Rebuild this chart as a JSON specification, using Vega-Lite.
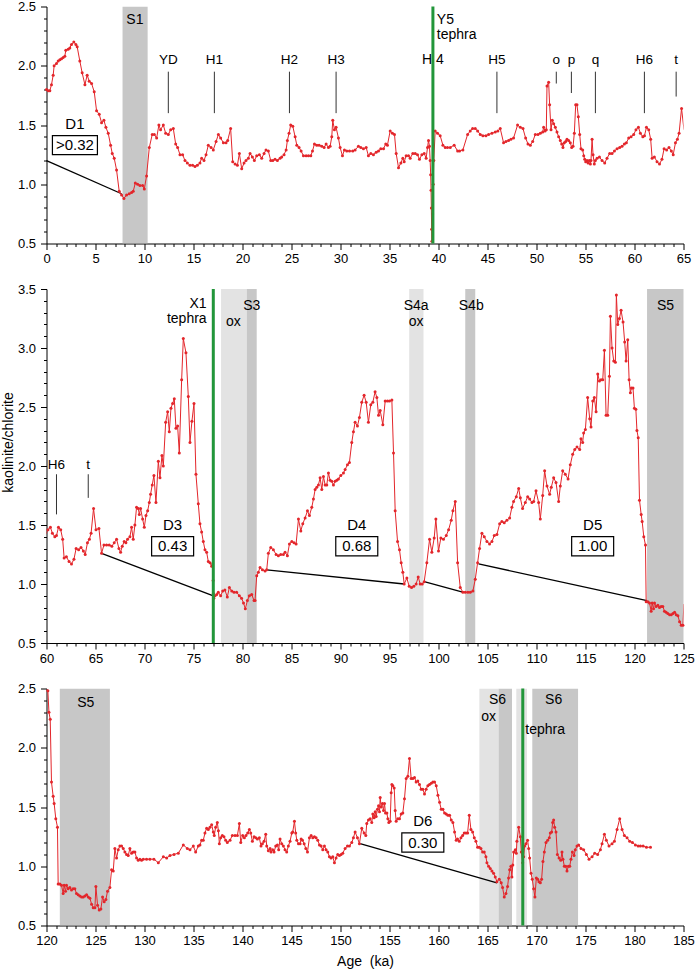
{
"$schema": "https://vega.github.io/schema/vega-lite/v6.json",
"padding": {"left": 1.5, "top": 0.5, "right": 5, "bottom": 0},
"bounds": "flush",
"spacing": 45.5,
"config": {
  "view": {"stroke": null},
  "font": "Liberation Sans",
  "axis": {"domainColor": "#000", "tickColor": "#000", "labelColor": "#000", "titleColor": "#000", "grid": false,
           "labelFont": "Liberation Sans", "titleFont": "Liberation Sans", "labelFontSize": 13, "titleFontSize": 14,
           "titleFontWeight": "normal", "domainWidth": 1, "tickWidth": 1, "labelOverlap": false, "labelFlush": false, "labelBound": false},
  "text": {"font": "Liberation Sans", "color": "#000"}
},
"datasets": {
  "kc": [
{"ka":0,"v":1.80},{"ka":0.17,"v":1.79},{"ka":0.34,"v":1.79},{"ka":0.51,"v":1.84},{"ka":0.68,"v":1.92},{"ka":0.78,"v":2.00},{"ka":1.02,"v":2.02},{"ka":1.19,"v":2.04},{"ka":1.36,"v":2.05},{"ka":1.53,"v":2.06},{"ka":1.70,"v":2.07},{"ka":1.87,"v":2.08},{"ka":1.97,"v":2.13},{"ka":2.21,"v":2.14},{"ka":2.38,"v":2.15},{"ka":2.55,"v":2.18},{"ka":2.79,"v":2.20},{"ka":3.00,"v":2.18},{"ka":3.13,"v":2.16},{"ka":3.40,"v":2.04},{"ka":3.64,"v":1.94},{"ka":3.92,"v":1.84},{"ka":4.15,"v":1.92},{"ka":4.36,"v":1.87},{"ka":4.60,"v":1.85},{"ka":4.87,"v":1.78},{"ka":5.11,"v":1.62},{"ka":5.38,"v":1.59},{"ka":5.62,"v":1.52},{"ka":5.86,"v":1.54},{"ka":6.06,"v":1.48},{"ka":6.30,"v":1.43},{"ka":6.54,"v":1.33},{"ka":6.71,"v":1.26},{"ka":6.91,"v":1.22},{"ka":7.15,"v":1.12},{"ka":7.42,"v":0.94},{"ka":7.66,"v":0.91},{"ka":7.90,"v":0.88},{"ka":8.17,"v":0.91},{"ka":8.44,"v":0.92},{"ka":8.68,"v":0.93},{"ka":8.85,"v":0.94},{"ka":9.06,"v":1.01},{"ka":9.30,"v":1.00},{"ka":9.53,"v":0.99},{"ka":9.81,"v":0.99},{"ka":9.98,"v":0.96},{"ka":10.21,"v":1.07},{"ka":10.49,"v":1.31},{"ka":10.79,"v":1.42},{"ka":11.00,"v":1.42},{"ka":11.24,"v":1.39},{"ka":11.47,"v":1.50},{"ka":11.64,"v":1.46},{"ka":11.92,"v":1.50},{"ka":12.16,"v":1.43},{"ka":12.43,"v":1.42},{"ka":12.67,"v":1.46},{"ka":12.94,"v":1.47},{"ka":13.18,"v":1.34},{"ka":13.38,"v":1.31},{"ka":13.62,"v":1.25},{"ka":13.89,"v":1.25},{"ka":14.13,"v":1.20},{"ka":14.37,"v":1.18},{"ka":14.64,"v":1.16},{"ka":14.91,"v":1.16},{"ka":15.15,"v":1.15},{"ka":15.39,"v":1.16},{"ka":15.66,"v":1.18},{"ka":15.83,"v":1.22},{"ka":16.07,"v":1.20},{"ka":16.28,"v":1.25},{"ka":16.51,"v":1.33},{"ka":16.79,"v":1.31},{"ka":17.02,"v":1.29},{"ka":17.30,"v":1.36},{"ka":17.54,"v":1.42},{"ka":17.77,"v":1.39},{"ka":18.05,"v":1.35},{"ka":18.32,"v":1.35},{"ka":18.49,"v":1.37},{"ka":18.79,"v":1.47},{"ka":19.00,"v":1.19},{"ka":19.24,"v":1.17},{"ka":19.48,"v":1.16},{"ka":19.68,"v":1.26},{"ka":19.92,"v":1.13},{"ka":20.16,"v":1.18},{"ka":20.36,"v":1.20},{"ka":20.60,"v":1.22},{"ka":20.77,"v":1.26},{"ka":21.01,"v":1.23},{"ka":21.21,"v":1.20},{"ka":21.45,"v":1.24},{"ka":21.72,"v":1.25},{"ka":21.96,"v":1.22},{"ka":22.20,"v":1.26},{"ka":22.40,"v":1.29},{"ka":22.64,"v":1.28},{"ka":22.88,"v":1.20},{"ka":23.09,"v":1.20},{"ka":23.32,"v":1.21},{"ka":23.56,"v":1.20},{"ka":23.83,"v":1.22},{"ka":24.00,"v":1.23},{"ka":24.24,"v":1.25},{"ka":24.45,"v":1.29},{"ka":24.58,"v":1.37},{"ka":24.75,"v":1.43},{"ka":24.92,"v":1.50},{"ka":25.13,"v":1.49},{"ka":25.37,"v":1.40},{"ka":25.54,"v":1.33},{"ka":25.77,"v":1.31},{"ka":25.98,"v":1.28},{"ka":26.22,"v":1.24},{"ka":26.49,"v":1.24},{"ka":26.73,"v":1.24},{"ka":26.97,"v":1.24},{"ka":27.14,"v":1.28},{"ka":27.34,"v":1.34},{"ka":27.58,"v":1.33},{"ka":27.82,"v":1.33},{"ka":28.09,"v":1.32},{"ka":28.33,"v":1.31},{"ka":28.53,"v":1.34},{"ka":28.77,"v":1.31},{"ka":28.94,"v":1.32},{"ka":29.11,"v":1.40},{"ka":29.21,"v":1.54},{"ka":29.38,"v":1.46},{"ka":29.55,"v":1.48},{"ka":29.79,"v":1.39},{"ka":29.96,"v":1.31},{"ka":30.20,"v":1.24},{"ka":30.40,"v":1.29},{"ka":30.64,"v":1.28},{"ka":30.92,"v":1.28},
{"ka":31.25,"v":1.28},{"ka":31.49,"v":1.29},{"ka":31.83,"v":1.32},{"ka":32.07,"v":1.31},{"ka":32.34,"v":1.30},{"ka":32.62,"v":1.31},{"ka":32.85,"v":1.24},{"ka":33.09,"v":1.26},{"ka":33.36,"v":1.25},{"ka":33.64,"v":1.27},{"ka":33.88,"v":1.28},{"ka":34.11,"v":1.30},{"ka":34.39,"v":1.30},{"ka":34.62,"v":1.34},{"ka":34.79,"v":1.33},{"ka":35.07,"v":1.45},{"ka":35.30,"v":1.43},{"ka":35.51,"v":1.42},{"ka":35.68,"v":1.26},{"ka":35.92,"v":1.14},{"ka":36.16,"v":1.18},{"ka":36.36,"v":1.22},{"ka":36.50,"v":1.19},{"ka":36.70,"v":1.24},{"ka":36.94,"v":1.24},{"ka":37.11,"v":1.22},{"ka":37.38,"v":1.26},{"ka":37.62,"v":1.26},{"ka":37.86,"v":1.25},{"ka":38.06,"v":1.21},{"ka":38.30,"v":1.25},{"ka":38.54,"v":1.26},{"ka":38.74,"v":1.22},{"ka":38.88,"v":1.31},{"ka":38.98,"v":1.37},{"ka":39.08,"v":1.32},{"ka":39.15,"v":1.20},{"ka":39.20,"v":1.08},{"ka":39.24,"v":0.95},{"ka":39.27,"v":0.80},{"ka":39.30,"v":0.62},{"ka":39.33,"v":0.52},{"ka":39.40,"v":0.75},{"ka":39.46,"v":1.00},{"ka":39.52,"v":1.20},{"ka":39.66,"v":1.45},{"ka":39.90,"v":1.43},{"ka":40.17,"v":1.41},{"ka":40.45,"v":1.33},{"ka":40.69,"v":1.31},{"ka":40.92,"v":1.31},{"ka":41.20,"v":1.31},{"ka":41.60,"v":1.33},{"ka":41.95,"v":1.28},{"ka":42.15,"v":1.28},{"ka":42.49,"v":1.29},{"ka":42.97,"v":1.42},{"ka":43.24,"v":1.45},{"ka":43.48,"v":1.47},{"ka":43.75,"v":1.47},{"ka":43.99,"v":1.45},{"ka":44.26,"v":1.42},{"ka":44.53,"v":1.41},{"ka":44.84,"v":1.41},{"ka":45.11,"v":1.42},{"ka":45.45,"v":1.43},{"ka":45.79,"v":1.44},{"ka":46.06,"v":1.45},{"ka":46.30,"v":1.47},{"ka":46.64,"v":1.35},{"ka":46.88,"v":1.36},{"ka":47.15,"v":1.37},{"ka":47.39,"v":1.38},{"ka":47.66,"v":1.39},{"ka":48.07,"v":1.50},{"ka":48.35,"v":1.48},{"ka":48.62,"v":1.47},{"ka":48.89,"v":1.39},{"ka":49.13,"v":1.34},{"ka":49.37,"v":1.33},{"ka":49.61,"v":1.36},{"ka":49.88,"v":1.42},{"ka":50.15,"v":1.42},{"ka":50.39,"v":1.43},{"ka":50.63,"v":1.44},{"ka":50.73,"v":1.48},{"ka":50.87,"v":1.45},{"ka":51.00,"v":1.46},{"ka":51.07,"v":1.83},{"ka":51.24,"v":1.86},{"ka":51.34,"v":1.67},{"ka":51.48,"v":1.46},{"ka":51.61,"v":1.54},{"ka":51.75,"v":1.51},{"ka":51.92,"v":1.48},{"ka":52.09,"v":1.44},{"ka":52.26,"v":1.40},{"ka":52.43,"v":1.37},{"ka":52.57,"v":1.34},{"ka":52.70,"v":1.31},{"ka":52.84,"v":1.35},{"ka":52.98,"v":1.36},{"ka":53.11,"v":1.38},{"ka":53.28,"v":1.37},{"ka":53.45,"v":1.35},{"ka":53.59,"v":1.31},{"ka":53.73,"v":1.32},{"ka":53.86,"v":1.43},{"ka":54.00,"v":1.67},{"ka":54.13,"v":1.67},{"ka":54.27,"v":1.57},{"ka":54.41,"v":1.42},{"ka":54.54,"v":1.30},{"ka":54.71,"v":1.29},{"ka":54.82,"v":1.24},{"ka":54.92,"v":1.21},{"ka":55.02,"v":1.19},{"ka":55.16,"v":1.20},{"ka":55.26,"v":1.18},{"ka":55.39,"v":1.20},{"ka":55.50,"v":1.17},{"ka":55.56,"v":1.20},{"ka":55.67,"v":1.38},{"ka":55.77,"v":1.25},{"ka":55.90,"v":1.17},{"ka":56.01,"v":1.20},{"ka":56.18,"v":1.22},{"ka":56.42,"v":1.23},{"ka":56.69,"v":1.20},{"ka":56.96,"v":1.18},{"ka":57.20,"v":1.22},{"ka":57.47,"v":1.26},{"ka":57.71,"v":1.26},{"ka":57.95,"v":1.28},{"ka":58.22,"v":1.30},{"ka":58.49,"v":1.31},{"ka":58.73,"v":1.32},{"ka":58.97,"v":1.34},{"ka":59.17,"v":1.35},{"ka":59.41,"v":1.39},{"ka":59.65,"v":1.40},{"ka":59.92,"v":1.42},
{"ka":60.15,"v":1.46},{"ka":60.40,"v":1.48},{"ka":60.60,"v":1.43},{"ka":60.85,"v":1.40},{"ka":61.02,"v":1.41},{"ka":61.22,"v":1.48},{"ka":61.45,"v":1.46},{"ka":61.65,"v":1.38},{"ka":61.80,"v":1.22},{"ka":62.03,"v":1.23},{"ka":62.30,"v":1.19},{"ka":62.55,"v":1.17},{"ka":62.80,"v":1.21},{"ka":63.02,"v":1.30},{"ka":63.28,"v":1.29},{"ka":63.52,"v":1.31},{"ka":63.76,"v":1.28},{"ka":63.95,"v":1.25},{"ka":64.18,"v":1.35},{"ka":64.38,"v":1.38},{"ka":64.55,"v":1.43},{"ka":64.80,"v":1.64},{"ka":65.05,"v":1.46},{"ka":65.35,"v":1.47},{"ka":65.62,"v":1.26},
{"ka":65.86,"v":1.33},{"ka":66.13,"v":1.33},{"ka":66.40,"v":1.33},{"ka":66.67,"v":1.32},{"ka":66.91,"v":1.35},{"ka":67.15,"v":1.38},{"ka":67.39,"v":1.30},{"ka":67.56,"v":1.27},{"ka":67.73,"v":1.32},{"ka":67.93,"v":1.36},{"ka":68.10,"v":1.35},{"ka":68.27,"v":1.38},{"ka":68.51,"v":1.40},{"ka":68.68,"v":1.48},{"ka":68.85,"v":1.38},{"ka":69.02,"v":1.50},{"ka":69.19,"v":1.65},{"ka":69.36,"v":1.64},{"ka":69.47,"v":1.59},{"ka":69.60,"v":1.64},{"ka":69.81,"v":1.55},{"ka":69.98,"v":1.48},{"ka":70.15,"v":1.58},{"ka":70.32,"v":1.62},{"ka":70.49,"v":1.69},{"ka":70.62,"v":1.76},{"ka":70.79,"v":1.84},{"ka":70.96,"v":1.92},{"ka":71.17,"v":1.69},{"ka":71.41,"v":2.04},{"ka":71.58,"v":1.90},{"ka":71.78,"v":2.09},{"ka":71.92,"v":2.00},{"ka":72.16,"v":2.37},{"ka":72.36,"v":2.46},{"ka":72.53,"v":2.29},{"ka":72.70,"v":2.49},{"ka":72.87,"v":2.53},{"ka":73.04,"v":2.57},{"ka":73.21,"v":2.32},{"ka":73.38,"v":2.34},{"ka":73.55,"v":2.11},{"ka":73.79,"v":2.73},{"ka":73.96,"v":3.08},{"ka":74.23,"v":2.96},{"ka":74.47,"v":2.59},{"ka":74.64,"v":2.20},{"ka":74.84,"v":2.38},{"ka":75.05,"v":2.53},{"ka":75.25,"v":1.93},{"ka":75.49,"v":1.68},{"ka":75.66,"v":1.51},{"ka":75.83,"v":1.44},{"ka":76.00,"v":1.36},{"ka":76.17,"v":1.29},{"ka":76.34,"v":1.27},{"ka":76.51,"v":1.19},{"ka":76.68,"v":1.18},{"ka":76.85,"v":1.15},{"ka":76.96,"v":1.17},{"ka":77.00,"v":1.03},{"ka":77.03,"v":0.92},{"ka":77.07,"v":0.88},{"ka":77.20,"v":0.90},{"ka":77.37,"v":0.91},{"ka":77.53,"v":0.93},{"ka":77.77,"v":0.90},{"ka":77.98,"v":0.94},{"ka":78.20,"v":0.95},{"ka":78.45,"v":0.89},{"ka":78.66,"v":0.97},{"ka":78.90,"v":0.94},{"ka":79.13,"v":0.93},{"ka":79.40,"v":0.93},{"ka":79.68,"v":0.90},{"ka":79.90,"v":0.88},{"ka":80.10,"v":0.84},{"ka":80.29,"v":0.79},{"ka":80.50,"v":0.86},{"ka":80.70,"v":0.90},{"ka":80.94,"v":0.91},{"ka":81.18,"v":0.86},{"ka":81.28,"v":0.86},{"ka":81.45,"v":1.07},{"ka":81.62,"v":1.10},{"ka":81.79,"v":1.14},{"ka":82.03,"v":1.12},{"ka":82.30,"v":1.11},{"ka":82.47,"v":1.12},{"ka":82.64,"v":1.26},{"ka":82.88,"v":1.31},{"ka":83.15,"v":1.29},{"ka":83.43,"v":1.25},{"ka":83.66,"v":1.24},{"ka":83.90,"v":1.25},{"ka":84.17,"v":1.25},{"ka":84.34,"v":1.27},{"ka":84.58,"v":1.24},{"ka":84.79,"v":1.34},{"ka":85.03,"v":1.36},{"ka":85.26,"v":1.35},{"ka":85.47,"v":1.34},{"ka":85.71,"v":1.55},{"ka":85.95,"v":1.45},{"ka":86.15,"v":1.51},{"ka":86.39,"v":1.56},{"ka":86.63,"v":1.62},{"ka":86.83,"v":1.58},{"ka":87.07,"v":1.65},{"ka":87.24,"v":1.72},{"ka":87.41,"v":1.80},{"ka":87.58,"v":1.82},{"ka":87.75,"v":1.84},{"ka":87.92,"v":1.90},{"ka":88.09,"v":1.80},{"ka":88.26,"v":1.91},{"ka":88.43,"v":1.84},{"ka":88.60,"v":1.84},{"ka":88.77,"v":1.94},{"ka":88.94,"v":1.88},{"ka":89.11,"v":1.87},{"ka":89.28,"v":1.84},{"ka":89.45,"v":1.87},{"ka":89.62,"v":1.88},{"ka":89.79,"v":1.89},{"ka":90.03,"v":1.92},{"ka":90.30,"v":1.94},{"ka":90.47,"v":1.97},{"ka":90.71,"v":2.01},{"ka":90.91,"v":2.03},{"ka":91.15,"v":2.20},{"ka":91.32,"v":2.29},{"ka":91.49,"v":2.37},{"ka":91.73,"v":2.34},{"ka":91.93,"v":2.41},{"ka":92.17,"v":2.54},{"ka":92.41,"v":2.60},{"ka":92.62,"v":2.54},{"ka":92.85,"v":2.37},{"ka":93.09,"v":2.52},{"ka":93.30,"v":2.54},{"ka":93.53,"v":2.63},{"ka":93.71,"v":2.58},{"ka":93.88,"v":2.43},{"ka":94.05,"v":2.47},{"ka":94.32,"v":2.35},{"ka":94.56,"v":2.55},{"ka":94.79,"v":2.55},{"ka":95.00,"v":2.55},{"ka":95.24,"v":2.56},{"ka":95.41,"v":2.11},{"ka":95.58,"v":1.62},{"ka":95.82,"v":1.36},{"ka":96.02,"v":1.29},{"ka":96.19,"v":1.18},{"ka":96.36,"v":1.10},{"ka":96.50,"v":1.00},{"ka":96.77,"v":1.05},{"ka":97.01,"v":0.98},{"ka":97.25,"v":0.97},{"ka":97.48,"v":0.98},{"ka":97.72,"v":1.00},{"ka":97.93,"v":1.06},{"ka":98.13,"v":1.00},{"ka":98.34,"v":1.00},{"ka":98.54,"v":1.02},{"ka":98.81,"v":1.18},{"ka":99.09,"v":1.38},{"ka":99.32,"v":1.27},{"ka":99.56,"v":1.39},{"ka":99.73,"v":1.55},{"ka":100.00,"v":1.28},{"ka":100.24,"v":1.39},{"ka":100.51,"v":1.38},{"ka":100.79,"v":1.41},{"ka":101.03,"v":1.46},{"ka":101.30,"v":1.54},{"ka":101.47,"v":1.62},{"ka":101.71,"v":1.70},{"ka":101.95,"v":1.18},{"ka":102.22,"v":0.97},{"ka":102.49,"v":0.93},{"ka":102.73,"v":0.93},{"ka":103.00,"v":0.93},{"ka":103.24,"v":0.93},{"ka":103.51,"v":0.94},{"ka":103.75,"v":1.04},{"ka":103.99,"v":1.18},{"ka":104.19,"v":1.30},{"ka":104.43,"v":1.43},{"ka":104.67,"v":1.40},{"ka":104.94,"v":1.36},{"ka":105.21,"v":1.34},{"ka":105.45,"v":1.36},{"ka":105.69,"v":1.41},{"ka":105.96,"v":1.42},{"ka":106.24,"v":1.51},{"ka":106.47,"v":1.53},{"ka":106.71,"v":1.52},{"ka":106.98,"v":1.54},{"ka":107.26,"v":1.56},{"ka":107.49,"v":1.65},{"ka":107.66,"v":1.70},{"ka":107.94,"v":1.74},{"ka":108.18,"v":1.81},{"ka":108.35,"v":1.73},{"ka":108.58,"v":1.64},{"ka":108.86,"v":1.69},{"ka":109.10,"v":1.74},{"ka":109.30,"v":1.72},{"ka":109.54,"v":1.69},{"ka":109.71,"v":1.70},{"ka":109.95,"v":1.79},{"ka":110.22,"v":1.69},{"ka":110.39,"v":1.55},{"ka":110.63,"v":1.75},{"ka":110.83,"v":1.96},{"ka":111.07,"v":1.83},{"ka":111.34,"v":1.76},{"ka":111.51,"v":1.82},{"ka":111.75,"v":1.90},{"ka":111.99,"v":1.86},{"ka":112.26,"v":1.70},{"ka":112.43,"v":1.83},{"ka":112.67,"v":1.96},{"ka":112.94,"v":1.93},{"ka":113.22,"v":1.89},{"ka":113.45,"v":2.01},{"ka":113.69,"v":2.10},{"ka":113.90,"v":2.14},{"ka":114.13,"v":2.16},{"ka":114.41,"v":2.14},{"ka":114.54,"v":2.23},{"ka":114.71,"v":2.20},{"ka":114.81,"v":2.28},{"ka":114.99,"v":2.31},{"ka":115.22,"v":2.58},{"ka":115.43,"v":2.40},{"ka":115.56,"v":2.33},{"ka":115.74,"v":2.55},{"ka":115.90,"v":2.58},{"ka":116.08,"v":2.46},{"ka":116.25,"v":2.78},{"ka":116.42,"v":2.72},{"ka":116.59,"v":2.73},{"ka":116.76,"v":2.73},{"ka":116.93,"v":2.98},{"ka":117.10,"v":2.43},{"ka":117.27,"v":2.43},{"ka":117.44,"v":2.76},{"ka":117.54,"v":3.27},{"ka":117.71,"v":3.00},{"ka":117.88,"v":2.89},{"ka":118.05,"v":2.88},{"ka":118.15,"v":3.45},{"ka":118.29,"v":3.20},{"ka":118.46,"v":3.25},{"ka":118.63,"v":3.32},{"ka":118.83,"v":3.22},{"ka":119.00,"v":3.05},{"ka":119.14,"v":2.89},{"ka":119.31,"v":3.07},{"ka":119.45,"v":2.73},{"ka":119.58,"v":2.62},{"ka":119.68,"v":2.66},{"ka":119.85,"v":2.66},{"ka":119.99,"v":2.49},{"ka":120.14,"v":2.48},{"ka":120.25,"v":2.30},{"ka":120.38,"v":2.24},{"ka":120.51,"v":1.71},{"ka":120.68,"v":1.59},{"ka":120.78,"v":1.53},{"ka":120.95,"v":1.40},{"ka":121.12,"v":1.33},{"ka":121.19,"v":0.85},{"ka":121.36,"v":0.85},{"ka":121.53,"v":0.84},{"ka":121.70,"v":0.77},{"ka":121.80,"v":0.84},{"ka":121.94,"v":0.79},{"ka":122.04,"v":0.84},{"ka":122.21,"v":0.81},{"ka":122.38,"v":0.82},{"ka":122.55,"v":0.80},{"ka":122.72,"v":0.81},{"ka":122.89,"v":0.81},{"ka":123.06,"v":0.77},{"ka":123.23,"v":0.76},{"ka":123.40,"v":0.75},{"ka":123.58,"v":0.74},{"ka":123.75,"v":0.74},{"ka":123.92,"v":0.75},{"ka":124.09,"v":0.76},{"ka":124.26,"v":0.74},{"ka":124.43,"v":0.73},{"ka":124.60,"v":0.68},{"ka":124.77,"v":0.65},{"ka":124.94,"v":0.65},{"ka":125.04,"v":0.83},{"ka":125.21,"v":0.67},{"ka":125.38,"v":0.63},{"ka":125.55,"v":0.64},{"ka":125.72,"v":0.74},{"ka":125.89,"v":0.70},{"ka":126.06,"v":0.72},{"ka":126.23,"v":0.79},{"ka":126.47,"v":0.82},{"ka":126.64,"v":0.97},{"ka":126.81,"v":0.96},{"ka":126.98,"v":1.15},{"ka":127.15,"v":1.07},{"ka":127.32,"v":1.14},{"ka":127.49,"v":1.17},{"ka":127.66,"v":1.17},{"ka":127.83,"v":1.15},{"ka":128.00,"v":1.12},{"ka":128.17,"v":1.10},{"ka":128.34,"v":1.09},{"ka":128.51,"v":1.15},{"ka":128.68,"v":1.11},{"ka":128.85,"v":1.12},{"ka":129.02,"v":1.12},{"ka":129.19,"v":1.07},{"ka":129.36,"v":1.05},{"ka":129.53,"v":1.06},{"ka":129.70,"v":1.05},{"ka":129.87,"v":1.06},{"ka":130.21,"v":1.06},{"ka":130.55,"v":1.06},{"ka":130.96,"v":1.06},{"ka":131.41,"v":1.03},{"ka":131.92,"v":1.08},{"ka":132.26,"v":1.07},{"ka":132.60,"v":1.09},{"ka":133.01,"v":1.10},{"ka":133.45,"v":1.11},{"ka":133.96,"v":1.18},{"ka":134.37,"v":1.15},{"ka":134.64,"v":1.14},{"ka":134.98,"v":1.17},{"ka":135.22,"v":1.12},{"ka":135.49,"v":1.17},{"ka":135.66,"v":1.18},{"ka":135.83,"v":1.22},{"ka":136.00,"v":1.22},{"ka":136.17,"v":1.28},{"ka":136.34,"v":1.32},{"ka":136.51,"v":1.31},{"ka":136.68,"v":1.33},{"ka":136.85,"v":1.35},{"ka":137.02,"v":1.29},{"ka":137.12,"v":1.26},{"ka":137.26,"v":1.33},{"ka":137.43,"v":1.37},{"ka":137.54,"v":1.30},{"ka":137.64,"v":1.19},{"ka":137.77,"v":1.24},{"ka":137.94,"v":1.26},{"ka":138.11,"v":1.25},{"ka":138.28,"v":1.22},{"ka":138.45,"v":1.20},{"ka":138.73,"v":1.22},{"ka":138.96,"v":1.26},{"ka":139.24,"v":1.26},{"ka":139.48,"v":1.26},{"ka":139.68,"v":1.36},{"ka":139.82,"v":1.20},{"ka":140.02,"v":1.26},{"ka":140.19,"v":1.24},{"ka":140.36,"v":1.26},{"ka":140.53,"v":1.28},{"ka":140.70,"v":1.31},{"ka":140.84,"v":1.28},{"ka":141.01,"v":1.21},{"ka":141.18,"v":1.25},{"ka":141.35,"v":1.24},{"ka":141.52,"v":1.23},{"ka":141.72,"v":1.24},{"ka":141.89,"v":1.17},{"ka":142.03,"v":1.19},{"ka":142.20,"v":1.21},{"ka":142.37,"v":1.27},{"ka":142.47,"v":1.17},{"ka":142.64,"v":1.13},{"ka":142.81,"v":1.15},{"ka":142.91,"v":1.12},{"ka":143.08,"v":1.14},{"ka":143.22,"v":1.12},{"ka":143.39,"v":1.17},{"ka":143.56,"v":1.18},{"ka":143.69,"v":1.14},{"ka":143.83,"v":1.23},{"ka":144.00,"v":1.19},{"ka":144.17,"v":1.17},{"ka":144.34,"v":1.14},{"ka":144.51,"v":1.12},{"ka":144.68,"v":1.17},{"ka":144.85,"v":1.21},{"ka":145.03,"v":1.28},{"ka":145.13,"v":1.29},{"ka":145.30,"v":1.38},{"ka":145.43,"v":1.28},{"ka":145.54,"v":1.22},{"ka":145.71,"v":1.19},{"ka":145.88,"v":1.19},{"ka":145.98,"v":1.23},{"ka":146.12,"v":1.22},{"ka":146.29,"v":1.19},{"ka":146.46,"v":1.15},{"ka":146.63,"v":1.12},{"ka":146.83,"v":1.24},{"ka":147.00,"v":1.26},{"ka":147.17,"v":1.24},{"ka":147.34,"v":1.25},{"ka":147.51,"v":1.24},{"ka":147.68,"v":1.22},{"ka":147.85,"v":1.18},{"ka":148.02,"v":1.17},{"ka":148.19,"v":1.14},{"ka":148.36,"v":1.17},{"ka":148.53,"v":1.14},{"ka":148.70,"v":1.12},{"ka":148.87,"v":1.08},{"ka":149.04,"v":1.07},{"ka":149.21,"v":1.08},{"ka":149.38,"v":1.03},{"ka":149.55,"v":1.07},{"ka":149.72,"v":1.10},{"ka":149.89,"v":1.09},{"ka":150.06,"v":1.10},{"ka":150.23,"v":1.11},{"ka":150.47,"v":1.15},{"ka":150.71,"v":1.17},{"ka":150.91,"v":1.17},{"ka":151.15,"v":1.20},{"ka":151.32,"v":1.24},{"ka":151.49,"v":1.29},{"ka":151.73,"v":1.24},{"ka":151.93,"v":1.19},{"ka":152.17,"v":1.32},{"ka":152.41,"v":1.28},{"ka":152.58,"v":1.26},{"ka":152.68,"v":1.36},{"ka":152.85,"v":1.39},{"ka":153.02,"v":1.40},{"ka":153.19,"v":1.37},{"ka":153.30,"v":1.44},{"ka":153.43,"v":1.41},{"ka":153.54,"v":1.46},{"ka":153.64,"v":1.42},{"ka":153.77,"v":1.48},{"ka":153.88,"v":1.51},{"ka":153.98,"v":1.46},{"ka":154.05,"v":1.58},{"ka":154.15,"v":1.50},{"ka":154.28,"v":1.53},{"ka":154.39,"v":1.47},{"ka":154.49,"v":1.53},{"ka":154.59,"v":1.45},{"ka":154.73,"v":1.45},{"ka":154.83,"v":1.40},{"ka":154.93,"v":1.37},{"ka":155.07,"v":1.38},{"ka":155.17,"v":1.62},{"ka":155.24,"v":1.69},{"ka":155.34,"v":1.68},{"ka":155.48,"v":1.66},{"ka":155.58,"v":1.47},{"ka":155.68,"v":1.38},{"ka":155.85,"v":1.40},{"ka":156.02,"v":1.40},{"ka":156.19,"v":1.44},{"ka":156.36,"v":1.45},{"ka":156.53,"v":1.57},{"ka":156.70,"v":1.74},{"ka":156.87,"v":1.76},{"ka":157.04,"v":1.91},{"ka":157.21,"v":1.74},{"ka":157.38,"v":1.74},{"ka":157.55,"v":1.75},{"ka":157.72,"v":1.71},{"ka":157.89,"v":1.72},{"ka":158.06,"v":1.69},{"ka":158.23,"v":1.65},{"ka":158.40,"v":1.65},{"ka":158.57,"v":1.61},{"ka":158.74,"v":1.65},{"ka":158.91,"v":1.68},{"ka":159.08,"v":1.69},{"ka":159.26,"v":1.70},{"ka":159.43,"v":1.71},{"ka":159.60,"v":1.71},{"ka":159.77,"v":1.68},{"ka":159.94,"v":1.60},{"ka":160.11,"v":1.54},{"ka":160.28,"v":1.48},{"ka":160.45,"v":1.48},{"ka":160.62,"v":1.45},{"ka":160.79,"v":1.44},{"ka":160.96,"v":1.43},{"ka":161.13,"v":1.43},{"ka":161.30,"v":1.39},{"ka":161.47,"v":1.37},{"ka":161.64,"v":1.29},{"ka":161.81,"v":1.22},{"ka":161.94,"v":1.23},{"ka":162.12,"v":1.21},{"ka":162.29,"v":1.24},{"ka":162.46,"v":1.26},{"ka":162.63,"v":1.28},{"ka":162.80,"v":1.28},{"ka":162.97,"v":1.28},{"ka":163.14,"v":1.43},{"ka":163.31,"v":1.31},{"ka":163.48,"v":1.29},{"ka":163.65,"v":1.24},{"ka":163.82,"v":1.21},{"ka":163.99,"v":1.16},{"ka":164.16,"v":1.16},{"ka":164.33,"v":1.15},{"ka":164.50,"v":1.12},{"ka":164.67,"v":1.12},{"ka":164.84,"v":1.08},{"ka":164.94,"v":1.03},{"ka":165.11,"v":1.00},{"ka":165.28,"v":0.98},{"ka":165.45,"v":0.96},{"ka":165.62,"v":0.94},{"ka":165.79,"v":0.91},{"ka":165.96,"v":0.87},{"ka":166.20,"v":0.89},{"ka":166.40,"v":0.86},{"ka":166.54,"v":0.82},{"ka":166.71,"v":0.74},{"ka":166.88,"v":0.77},{"ka":167.05,"v":0.83},{"ka":167.15,"v":0.90},{"ka":167.26,"v":0.97},{"ka":167.39,"v":1.00},{"ka":167.49,"v":0.91},{"ka":167.58,"v":1.01},{"ka":167.67,"v":1.12},{"ka":167.84,"v":1.14},{"ka":167.94,"v":1.11},{"ka":168.00,"v":1.21},{"ka":168.18,"v":1.33},{"ka":168.35,"v":1.25},{"ka":168.45,"v":1.12},{"ka":168.59,"v":1.03},{"ka":168.69,"v":1.08},{"ka":168.79,"v":1.17},{"ka":168.92,"v":1.19},{"ka":169.09,"v":1.22},{"ka":169.20,"v":1.15},{"ka":169.30,"v":1.07},{"ka":169.44,"v":0.94},{"ka":169.57,"v":0.89},{"ka":169.71,"v":0.81},{"ka":169.84,"v":0.74},{"ka":169.98,"v":0.90},{"ka":170.12,"v":0.89},{"ka":170.25,"v":0.87},{"ka":170.39,"v":0.86},{"ka":170.52,"v":0.89},{"ka":170.66,"v":1.04},{"ka":170.80,"v":1.12},{"ka":170.97,"v":1.20},{"ka":171.14,"v":1.22},{"ka":171.31,"v":1.24},{"ka":171.41,"v":1.28},{"ka":171.55,"v":1.29},{"ka":171.65,"v":1.37},{"ka":171.75,"v":1.39},{"ka":171.85,"v":1.33},{"ka":171.99,"v":1.29},{"ka":172.13,"v":1.10},{"ka":172.30,"v":1.07},{"ka":172.47,"v":1.05},{"ka":172.60,"v":1.12},{"ka":172.70,"v":1.06},{"ka":172.84,"v":1.00},{"ka":172.98,"v":1.00},{"ka":173.11,"v":0.96},{"ka":173.25,"v":1.00},{"ka":173.39,"v":1.00},{"ka":173.52,"v":1.06},{"ka":173.66,"v":1.12},{"ka":173.83,"v":1.09},{"ka":173.96,"v":1.14},{"ka":174.13,"v":1.17},{"ka":174.30,"v":1.18},{"ka":174.54,"v":1.15},{"ka":174.81,"v":1.14},{"ka":175.09,"v":1.10},{"ka":175.36,"v":1.06},{"ka":175.67,"v":1.08},{"ka":175.94,"v":1.11},{"ka":176.24,"v":1.10},{"ka":176.52,"v":1.14},{"ka":176.69,"v":1.19},{"ka":176.93,"v":1.27},{"ka":177.13,"v":1.22},{"ka":177.40,"v":1.17},{"ka":177.71,"v":1.19},{"ka":177.95,"v":1.21},{"ka":178.22,"v":1.31},{"ka":178.49,"v":1.40},{"ka":178.73,"v":1.31},{"ka":178.97,"v":1.26},{"ka":179.24,"v":1.24},{"ka":179.51,"v":1.21},{"ka":179.79,"v":1.20},{"ka":180.09,"v":1.18},{"ka":180.37,"v":1.17},{"ka":180.60,"v":1.17},{"ka":180.88,"v":1.17},{"ka":181.22,"v":1.16},{"ka":181.63,"v":1.16}
  ],
  "bands": [
    {"panel":1,"x1":7.76,"x2":10.32,"kind":"sapropel"},
    {"panel":2,"x1":77.81,"x2":80.43,"kind":"ox"},
    {"panel":2,"x1":80.43,"x2":81.45,"kind":"sapropel"},
    {"panel":2,"x1":97.01,"x2":98.47,"kind":"ox"},
    {"panel":2,"x1":102.73,"x2":103.75,"kind":"sapropel"},
    {"panel":2,"x1":121.28,"x2":125.5,"kind":"sapropel"},
    {"panel":3,"x1":121.36,"x2":126.47,"kind":"sapropel"},
    {"panel":3,"x1":164.17,"x2":166.13,"kind":"ox"},
    {"panel":3,"x1":166.13,"x2":167.5,"kind":"sapropel"},
    {"panel":3,"x1":167.94,"x2":169.03,"kind":"ox"},
    {"panel":3,"x1":169.57,"x2":174.24,"kind":"sapropel"}
  ],
  "tephra": [{"panel":1,"x":39.43},{"panel":2,"x":77.02},{"panel":3,"x":168.6}],
  "dlines": [
    {"panel":1,"x1":0,"y1":1.2,"x2":7.66,"y2":0.92},
    {"panel":2,"x1":65.62,"y1":1.26,"x2":77.03,"y2":0.90},
    {"panel":2,"x1":82.47,"y1":1.12,"x2":96.5,"y2":1.0},
    {"panel":2,"x1":98.54,"y1":1.02,"x2":102.56,"y2":0.93},
    {"panel":2,"x1":104.09,"y1":1.17,"x2":121.28,"y2":0.86},
    {"panel":3,"x1":152.0,"y1":1.19,"x2":165.96,"y2":0.86}
  ],
  "events": [
    {"panel":1,"x":12.43,"y1":1.6,"y2":1.95,"ly":2.05,"label":"YD"},
    {"panel":1,"x":17.13,"y1":1.6,"y2":1.95,"ly":2.05,"label":"H1"},
    {"panel":1,"x":24.79,"y1":1.6,"y2":1.95,"ly":2.05,"label":"H2"},
    {"panel":1,"x":29.55,"y1":1.6,"y2":1.95,"ly":2.05,"label":"H3"},
    {"panel":1,"x":45.96,"y1":1.6,"y2":1.95,"ly":2.05,"label":"H5"},
    {"panel":1,"x":52.02,"y1":1.85,"y2":1.95,"ly":2.05,"label":"o"},
    {"panel":1,"x":53.56,"y1":1.77,"y2":1.95,"ly":2.05,"label":"p"},
    {"panel":1,"x":56.01,"y1":1.6,"y2":1.95,"ly":2.05,"label":"q"},
    {"panel":1,"x":61.01,"y1":1.6,"y2":1.95,"ly":2.05,"label":"H6"},
    {"panel":1,"x":64.25,"y1":1.74,"y2":1.95,"ly":2.05,"label":"t"},
    {"panel":2,"x":61.02,"y1":1.59,"y2":1.93,"ly":2.01,"label":"H6"},
    {"panel":2,"x":64.26,"y1":1.73,"y2":1.93,"ly":2.01,"label":"t"}
  ],
  "labels": [
    {"panel":1,"x":9.02,"y":2.39,"label":"S1","kind":"c"},
    {"panel":1,"x":39.43,"y":2.05,"label":"H 4","kind":"c"},
    {"panel":1,"x":39.83,"y":2.39,"label":"Y5","kind":"l"},
    {"panel":1,"x":39.83,"y":2.26,"label":"tephra","kind":"l"},
    {"panel":1,"x":2.9,"y":1.51,"label":"D1","kind":"d"},
    {"panel":1,"x":2.9,"y":1.33,"label":">0.32","kind":"v"},
    {"panel":2,"x":76.34,"y":3.37,"label":"X1","kind":"r"},
    {"panel":2,"x":76.34,"y":3.25,"label":"tephra","kind":"r"},
    {"panel":2,"x":79.07,"y":3.22,"label":"ox","kind":"c"},
    {"panel":2,"x":80.94,"y":3.36,"label":"S3","kind":"c"},
    {"panel":2,"x":97.72,"y":3.36,"label":"S4a","kind":"c"},
    {"panel":2,"x":97.72,"y":3.22,"label":"ox","kind":"c"},
    {"panel":2,"x":103.34,"y":3.36,"label":"S4b","kind":"c"},
    {"panel":2,"x":123.16,"y":3.36,"label":"S5","kind":"c"},
    {"panel":2,"x":72.87,"y":1.50,"label":"D3","kind":"d"},
    {"panel":2,"x":72.87,"y":1.32,"label":"0.43","kind":"v"},
    {"panel":2,"x":91.66,"y":1.50,"label":"D4","kind":"d"},
    {"panel":2,"x":91.66,"y":1.32,"label":"0.68","kind":"v"},
    {"panel":2,"x":115.73,"y":1.50,"label":"D5","kind":"d"},
    {"panel":2,"x":115.73,"y":1.32,"label":"1.00","kind":"v"},
    {"panel":3,"x":124.0,"y":2.38,"label":"S5","kind":"c"},
    {"panel":3,"x":166.03,"y":2.40,"label":"S6","kind":"c"},
    {"panel":3,"x":165.11,"y":2.26,"label":"ox","kind":"c"},
    {"panel":3,"x":171.75,"y":2.40,"label":"S6","kind":"c"},
    {"panel":3,"x":168.86,"y":2.15,"label":"tephra","kind":"l"},
    {"panel":3,"x":158.4,"y":1.38,"label":"D6","kind":"d"},
    {"panel":3,"x":158.4,"y":1.20,"label":"0.30","kind":"v"}
  ]
},
"vconcat": [
{
  "width": 637, "height": 237,
  "layer": [
    {"data":{"name":"bands"},"transform":[{"filter":"datum.panel==1"}],"mark":{"type":"rect","clip":true},
     "encoding":{"x":{"field":"x1","type":"quantitative","scale":{"domain":[0,65],"nice":false,"zero":false}},"x2":{"field":"x2"},
       "color":{"field":"kind","type":"nominal","scale":{"domain":["ox","sapropel"],"range":["#e3e3e3","#c7c7c7"]},"legend":null}}},
    {"data":{"name":"dlines"},"transform":[{"filter":"datum.panel==1"}],"mark":{"type":"rule","color":"#000","strokeWidth":1.3},
     "encoding":{"x":{"field":"x1","type":"quantitative","scale":{"domain":[0,65],"nice":false,"zero":false}},"x2":{"field":"x2"},
       "y":{"field":"y1","type":"quantitative","scale":{"domain":[0.5,2.5],"nice":false,"zero":false}},"y2":{"field":"y2"}}},
    {"data":{"name":"kc"},"transform":[{"filter":"datum.ka <= 65.4"}],"mark":{"type":"line","color":"#e3262b","strokeWidth":1,"clip":true},
     "encoding":{"x":{"field":"ka","type":"quantitative","scale":{"domain":[0,65],"nice":false,"zero":false},"title":null,
        "axis":{"values":[0,1,2,3,4,5,6,7,8,9,10,11,12,13,14,15,16,17,18,19,20,21,22,23,24,25,26,27,28,29,30,31,32,33,34,35,36,37,38,39,40,41,42,43,44,45,46,47,48,49,50,51,52,53,54,55,56,57,58,59,60,61,62,63,64,65],"format":"d",
          "tickCount":500,"labelOverlap":false,"labelFlush":false,"labelBound":false,
          "labelExpr":"datum.value % 5 === 0 ? datum.label : ''","tickSize":{"condition":{"test":"datum.value % 5 === 0","value":6},"value":3},"labelPadding":3}},
       "y":{"field":"v","type":"quantitative","scale":{"domain":[0.5,2.5],"nice":false,"zero":false},"title":null,
        "axis":{"values":[0.5,0.6,0.7,0.8,0.9,1.0,1.1,1.2,1.3,1.4,1.5,1.6,1.7,1.8,1.9,2.0,2.1,2.2,2.3,2.4,2.5],"format":".1f",
          "tickCount":500,"labelOverlap":false,"labelFlush":false,"labelBound":false,
          "labelExpr":"abs(datum.value*2-round(datum.value*2))<0.01 ? datum.label : ''","tickSize":{"condition":{"test":"abs(datum.value*2-round(datum.value*2))<0.01","value":6},"value":3},"labelPadding":5}}}},
    {"data":{"name":"kc"},"transform":[{"filter":"datum.ka <= 65"}],"mark":{"type":"point","filled":true,"size":9,"color":"#e3262b","opacity":1},
     "encoding":{"x":{"field":"ka","type":"quantitative","scale":{"domain":[0,65],"nice":false,"zero":false}},
       "y":{"field":"v","type":"quantitative","scale":{"domain":[0.5,2.5],"nice":false,"zero":false}}}},
    {"data":{"name":"events"},"transform":[{"filter":"datum.panel==1"}],"mark":{"type":"rule","color":"#333","strokeWidth":1},
     "encoding":{"x":{"field":"x","type":"quantitative","scale":{"domain":[0,65],"nice":false,"zero":false}},
       "y":{"field":"y1","type":"quantitative","scale":{"domain":[0.5,2.5],"nice":false,"zero":false}},"y2":{"field":"y2"}}},
    {"data":{"name":"events"},"transform":[{"filter":"datum.panel==1"}],"mark":{"type":"text","fontSize":13.5,"align":"center","baseline":"middle"},
     "encoding":{"x":{"field":"x","type":"quantitative","scale":{"domain":[0,65],"nice":false,"zero":false}},
       "y":{"field":"ly","type":"quantitative","scale":{"domain":[0.5,2.5],"nice":false,"zero":false}},"text":{"field":"label"}}},
    {"data":{"name":"labels"},"transform":[{"filter":"datum.panel==1 && datum.kind=='c'"}],"mark":{"type":"text","fontSize":14,"align":"center","baseline":"middle"},
     "encoding":{"x":{"field":"x","type":"quantitative","scale":{"domain":[0,65],"nice":false,"zero":false}},
       "y":{"field":"y","type":"quantitative","scale":{"domain":[0.5,2.5],"nice":false,"zero":false}},"text":{"field":"label"}}},
    {"data":{"name":"tephra"},"transform":[{"filter":"datum.panel==1"}],"mark":{"type":"rule","color":"#22963a","strokeWidth":3},
     "encoding":{"x":{"field":"x","type":"quantitative","scale":{"domain":[0,65],"nice":false,"zero":false}}}},
    {"data":{"name":"labels"},"transform":[{"filter":"datum.panel==1 && datum.kind=='l'"}],"mark":{"type":"text","fontSize":14,"align":"left","baseline":"middle"},
     "encoding":{"x":{"field":"x","type":"quantitative","scale":{"domain":[0,65],"nice":false,"zero":false}},
       "y":{"field":"y","type":"quantitative","scale":{"domain":[0.5,2.5],"nice":false,"zero":false}},"text":{"field":"label"}}},
    {"data":{"name":"labels"},"transform":[{"filter":"datum.panel==1 && datum.kind=='d'"}],"mark":{"type":"text","fontSize":15,"align":"center","baseline":"middle"},
     "encoding":{"x":{"field":"x","type":"quantitative","scale":{"domain":[0,65],"nice":false,"zero":false}},
       "y":{"field":"y","type":"quantitative","scale":{"domain":[0.5,2.5],"nice":false,"zero":false}},"text":{"field":"label"}}},
    {"data":{"name":"labels"},"transform":[{"filter":"datum.panel==1 && datum.kind=='v'"}],"mark":{"type":"point","shape":"M-1,-0.42H1V0.42H-1Z","size":2025,"filled":true,"fill":"#fff","stroke":"#000","strokeWidth":1.2,"opacity":1},
     "encoding":{"x":{"field":"x","type":"quantitative","scale":{"domain":[0,65],"nice":false,"zero":false}},
       "y":{"field":"y","type":"quantitative","scale":{"domain":[0.5,2.5],"nice":false,"zero":false}}}},
    {"data":{"name":"labels"},"transform":[{"filter":"datum.panel==1 && datum.kind=='v'"}],"mark":{"type":"text","fontSize":15,"align":"center","baseline":"middle"},
     "encoding":{"x":{"field":"x","type":"quantitative","scale":{"domain":[0,65],"nice":false,"zero":false}},
       "y":{"field":"y","type":"quantitative","scale":{"domain":[0.5,2.5],"nice":false,"zero":false}},"text":{"field":"label"}}}
  ]
},
{
  "width": 637, "height": 354,
  "layer": [
    {"data":{"name":"bands"},"transform":[{"filter":"datum.panel==2"}],"mark":{"type":"rect","clip":true},
     "encoding":{"x":{"field":"x1","type":"quantitative","scale":{"domain":[60,125],"nice":false,"zero":false}},"x2":{"field":"x2"},
       "color":{"field":"kind","type":"nominal","scale":{"domain":["ox","sapropel"],"range":["#e3e3e3","#c7c7c7"]},"legend":null}}},
    {"data":{"name":"dlines"},"transform":[{"filter":"datum.panel==2"}],"mark":{"type":"rule","color":"#000","strokeWidth":1.3},
     "encoding":{"x":{"field":"x1","type":"quantitative","scale":{"domain":[60,125],"nice":false,"zero":false}},"x2":{"field":"x2"},
       "y":{"field":"y1","type":"quantitative","scale":{"domain":[0.5,3.5],"nice":false,"zero":false}},"y2":{"field":"y2"}}},
    {"data":{"name":"kc"},"transform":[{"filter":"datum.ka >= 59.9 && datum.ka <= 125.1"}],"mark":{"type":"line","color":"#e3262b","strokeWidth":1,"clip":true},
     "encoding":{"x":{"field":"ka","type":"quantitative","scale":{"domain":[60,125],"nice":false,"zero":false},"title":null,
        "axis":{"values":[60,61,62,63,64,65,66,67,68,69,70,71,72,73,74,75,76,77,78,79,80,81,82,83,84,85,86,87,88,89,90,91,92,93,94,95,96,97,98,99,100,101,102,103,104,105,106,107,108,109,110,111,112,113,114,115,116,117,118,119,120,121,122,123,124,125],"format":"d",
          "tickCount":500,"labelOverlap":false,"labelFlush":false,"labelBound":false,
          "labelExpr":"datum.value % 5 === 0 ? datum.label : ''","tickSize":{"condition":{"test":"datum.value % 5 === 0","value":6},"value":3},"labelPadding":3}},
       "y":{"field":"v","type":"quantitative","scale":{"domain":[0.5,3.5],"nice":false,"zero":false},"title":"kaolinite/chlorite",
        "axis":{"values":[0.5,0.6,0.7,0.8,0.9,1.0,1.1,1.2,1.3,1.4,1.5,1.6,1.7,1.8,1.9,2.0,2.1,2.2,2.3,2.4,2.5,2.6,2.7,2.8,2.9,3.0,3.1,3.2,3.3,3.4,3.5],"format":".1f",
          "tickCount":500,"labelOverlap":false,"labelFlush":false,"labelBound":false,
          "labelExpr":"abs(datum.value*2-round(datum.value*2))<0.01 ? datum.label : ''","tickSize":{"condition":{"test":"abs(datum.value*2-round(datum.value*2))<0.01","value":6},"value":3},"labelPadding":5,
          "titlePadding":1.5,"titleY":153}}}},
    {"data":{"name":"kc"},"transform":[{"filter":"datum.ka >= 60 && datum.ka <= 125"}],"mark":{"type":"point","filled":true,"size":9,"color":"#e3262b","opacity":1},
     "encoding":{"x":{"field":"ka","type":"quantitative","scale":{"domain":[60,125],"nice":false,"zero":false}},
       "y":{"field":"v","type":"quantitative","scale":{"domain":[0.5,3.5],"nice":false,"zero":false}}}},
    {"data":{"name":"events"},"transform":[{"filter":"datum.panel==2"}],"mark":{"type":"rule","color":"#333","strokeWidth":1},
     "encoding":{"x":{"field":"x","type":"quantitative","scale":{"domain":[60,125],"nice":false,"zero":false}},
       "y":{"field":"y1","type":"quantitative","scale":{"domain":[0.5,3.5],"nice":false,"zero":false}},"y2":{"field":"y2"}}},
    {"data":{"name":"events"},"transform":[{"filter":"datum.panel==2"}],"mark":{"type":"text","fontSize":13.5,"align":"center","baseline":"middle"},
     "encoding":{"x":{"field":"x","type":"quantitative","scale":{"domain":[60,125],"nice":false,"zero":false}},
       "y":{"field":"ly","type":"quantitative","scale":{"domain":[0.5,3.5],"nice":false,"zero":false}},"text":{"field":"label"}}},
    {"data":{"name":"labels"},"transform":[{"filter":"datum.panel==2 && datum.kind=='c'"}],"mark":{"type":"text","fontSize":14,"align":"center","baseline":"middle"},
     "encoding":{"x":{"field":"x","type":"quantitative","scale":{"domain":[60,125],"nice":false,"zero":false}},
       "y":{"field":"y","type":"quantitative","scale":{"domain":[0.5,3.5],"nice":false,"zero":false}},"text":{"field":"label"}}},
    {"data":{"name":"tephra"},"transform":[{"filter":"datum.panel==2"}],"mark":{"type":"rule","color":"#22963a","strokeWidth":3},
     "encoding":{"x":{"field":"x","type":"quantitative","scale":{"domain":[60,125],"nice":false,"zero":false}}}},
    {"data":{"name":"labels"},"transform":[{"filter":"datum.panel==2 && datum.kind=='r'"}],"mark":{"type":"text","fontSize":14,"align":"right","baseline":"middle"},
     "encoding":{"x":{"field":"x","type":"quantitative","scale":{"domain":[60,125],"nice":false,"zero":false}},
       "y":{"field":"y","type":"quantitative","scale":{"domain":[0.5,3.5],"nice":false,"zero":false}},"text":{"field":"label"}}},
    {"data":{"name":"labels"},"transform":[{"filter":"datum.panel==2 && datum.kind=='d'"}],"mark":{"type":"text","fontSize":15,"align":"center","baseline":"middle"},
     "encoding":{"x":{"field":"x","type":"quantitative","scale":{"domain":[60,125],"nice":false,"zero":false}},
       "y":{"field":"y","type":"quantitative","scale":{"domain":[0.5,3.5],"nice":false,"zero":false}},"text":{"field":"label"}}},
    {"data":{"name":"labels"},"transform":[{"filter":"datum.panel==2 && datum.kind=='v'"}],"mark":{"type":"point","shape":"M-1,-0.46H1V0.46H-1Z","size":1764,"filled":true,"fill":"#fff","stroke":"#000","strokeWidth":1.2,"opacity":1},
     "encoding":{"x":{"field":"x","type":"quantitative","scale":{"domain":[60,125],"nice":false,"zero":false}},
       "y":{"field":"y","type":"quantitative","scale":{"domain":[0.5,3.5],"nice":false,"zero":false}}}},
    {"data":{"name":"labels"},"transform":[{"filter":"datum.panel==2 && datum.kind=='v'"}],"mark":{"type":"text","fontSize":15,"align":"center","baseline":"middle"},
     "encoding":{"x":{"field":"x","type":"quantitative","scale":{"domain":[60,125],"nice":false,"zero":false}},
       "y":{"field":"y","type":"quantitative","scale":{"domain":[0.5,3.5],"nice":false,"zero":false}},"text":{"field":"label"}}}
  ]
},
{
  "width": 637, "height": 237,
  "layer": [
    {"data":{"name":"bands"},"transform":[{"filter":"datum.panel==3"}],"mark":{"type":"rect","clip":true},
     "encoding":{"x":{"field":"x1","type":"quantitative","scale":{"domain":[120,185],"nice":false,"zero":false}},"x2":{"field":"x2"},
       "color":{"field":"kind","type":"nominal","scale":{"domain":["ox","sapropel"],"range":["#e3e3e3","#c7c7c7"]},"legend":null}}},
    {"data":{"name":"dlines"},"transform":[{"filter":"datum.panel==3"}],"mark":{"type":"rule","color":"#000","strokeWidth":1.3},
     "encoding":{"x":{"field":"x1","type":"quantitative","scale":{"domain":[120,185],"nice":false,"zero":false}},"x2":{"field":"x2"},
       "y":{"field":"y1","type":"quantitative","scale":{"domain":[0.5,2.5],"nice":false,"zero":false}},"y2":{"field":"y2"}}},
    {"data":{"name":"kc"},"transform":[{"filter":"datum.ka >= 119.9"}],"mark":{"type":"line","color":"#e3262b","strokeWidth":1,"clip":true},
     "encoding":{"x":{"field":"ka","type":"quantitative","scale":{"domain":[120,185],"nice":false,"zero":false},"title":"Age\u00a0 (ka)",
        "axis":{"values":[120,121,122,123,124,125,126,127,128,129,130,131,132,133,134,135,136,137,138,139,140,141,142,143,144,145,146,147,148,149,150,151,152,153,154,155,156,157,158,159,160,161,162,163,164,165,166,167,168,169,170,171,172,173,174,175,176,177,178,179,180,181,182,183,184,185],"format":"d",
          "tickCount":500,"labelOverlap":false,"labelFlush":false,"labelBound":false,
          "labelExpr":"datum.value % 5 === 0 ? datum.label : ''","tickSize":{"condition":{"test":"datum.value % 5 === 0","value":6},"value":3},"labelPadding":3,"titlePadding":7}},
       "y":{"field":"v","type":"quantitative","scale":{"domain":[0.5,2.5],"nice":false,"zero":false},"title":null,
        "axis":{"values":[0.5,0.6,0.7,0.8,0.9,1.0,1.1,1.2,1.3,1.4,1.5,1.6,1.7,1.8,1.9,2.0,2.1,2.2,2.3,2.4,2.5],"format":".1f",
          "tickCount":500,"labelOverlap":false,"labelFlush":false,"labelBound":false,
          "labelExpr":"abs(datum.value*2-round(datum.value*2))<0.01 ? datum.label : ''","tickSize":{"condition":{"test":"abs(datum.value*2-round(datum.value*2))<0.01","value":6},"value":3},"labelPadding":5}}}},
    {"data":{"name":"kc"},"transform":[{"filter":"datum.ka >= 120"}],"mark":{"type":"point","filled":true,"size":9,"color":"#e3262b","opacity":1},
     "encoding":{"x":{"field":"ka","type":"quantitative","scale":{"domain":[120,185],"nice":false,"zero":false}},
       "y":{"field":"v","type":"quantitative","scale":{"domain":[0.5,2.5],"nice":false,"zero":false}}}},
    {"data":{"name":"labels"},"transform":[{"filter":"datum.panel==3 && datum.kind=='c'"}],"mark":{"type":"text","fontSize":14,"align":"center","baseline":"middle"},
     "encoding":{"x":{"field":"x","type":"quantitative","scale":{"domain":[120,185],"nice":false,"zero":false}},
       "y":{"field":"y","type":"quantitative","scale":{"domain":[0.5,2.5],"nice":false,"zero":false}},"text":{"field":"label"}}},
    {"data":{"name":"tephra"},"transform":[{"filter":"datum.panel==3"}],"mark":{"type":"rule","color":"#22963a","strokeWidth":3},
     "encoding":{"x":{"field":"x","type":"quantitative","scale":{"domain":[120,185],"nice":false,"zero":false}}}},
    {"data":{"name":"labels"},"transform":[{"filter":"datum.panel==3 && datum.kind=='l'"}],"mark":{"type":"text","fontSize":14,"align":"left","baseline":"middle"},
     "encoding":{"x":{"field":"x","type":"quantitative","scale":{"domain":[120,185],"nice":false,"zero":false}},
       "y":{"field":"y","type":"quantitative","scale":{"domain":[0.5,2.5],"nice":false,"zero":false}},"text":{"field":"label"}}},
    {"data":{"name":"labels"},"transform":[{"filter":"datum.panel==3 && datum.kind=='d'"}],"mark":{"type":"text","fontSize":15,"align":"center","baseline":"middle"},
     "encoding":{"x":{"field":"x","type":"quantitative","scale":{"domain":[120,185],"nice":false,"zero":false}},
       "y":{"field":"y","type":"quantitative","scale":{"domain":[0.5,2.5],"nice":false,"zero":false}},"text":{"field":"label"}}},
    {"data":{"name":"labels"},"transform":[{"filter":"datum.panel==3 && datum.kind=='v'"}],"mark":{"type":"point","shape":"M-1,-0.46H1V0.46H-1Z","size":1764,"filled":true,"fill":"#fff","stroke":"#000","strokeWidth":1.2,"opacity":1},
     "encoding":{"x":{"field":"x","type":"quantitative","scale":{"domain":[120,185],"nice":false,"zero":false}},
       "y":{"field":"y","type":"quantitative","scale":{"domain":[0.5,2.5],"nice":false,"zero":false}}}},
    {"data":{"name":"labels"},"transform":[{"filter":"datum.panel==3 && datum.kind=='v'"}],"mark":{"type":"text","fontSize":15,"align":"center","baseline":"middle"},
     "encoding":{"x":{"field":"x","type":"quantitative","scale":{"domain":[120,185],"nice":false,"zero":false}},
       "y":{"field":"y","type":"quantitative","scale":{"domain":[0.5,2.5],"nice":false,"zero":false}},"text":{"field":"label"}}}
  ]
}
]
}
